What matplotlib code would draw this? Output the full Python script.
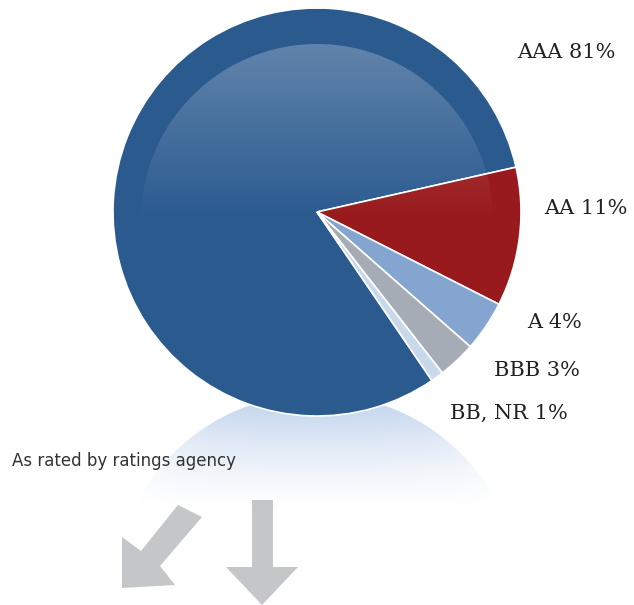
import matplotlib
matplotlib.use("Agg")
import matplotlib.pyplot as plt
import numpy as np
from matplotlib.patches import Circle, Polygon

ratings = ["AAA", "AA", "A", "BBB", "BB, NR"]
shares = [81, 11, 4, 3, 1]
colors = ["#2b5a8f", "#981a1d", "#83a5cf", "#a5acb5", "#c9d9ec"]
note = "As rated by ratings agency"

W, H = 634, 605
cx, cy, r = 317, H - 212, 204

fig = plt.figure(figsize=(W / 100, H / 100), dpi=100)
ax = fig.add_axes([0, 0, 1, 1])

# reflection under the pie
ny, nx = 120, 300
yy = np.linspace(0, 1, ny)[:, None]
xx = np.linspace(-1, 1, nx)[None, :]
alpha = (1 - yy) ** 1.3 * np.clip(1 - np.abs(xx) ** 4, 0, 1) * 0.8
refl = np.zeros((ny, nx, 4))
refl[..., 0] = 0.70
refl[..., 1] = 0.79
refl[..., 2] = 0.91
refl[..., 3] = alpha
im = ax.imshow(refl, extent=(cx - r, cx + r, H - 510, H - 400),
               origin="upper", zorder=1, aspect="auto")
im.set_clip_path(Circle((cx, H - 598), r, transform=ax.transData))

wedges, _ = ax.pie(shares, colors=colors, startangle=-55.7, counterclock=False,
                   center=(cx, cy), radius=r,
                   wedgeprops=dict(edgecolor="white", linewidth=1.2, zorder=2))

# glossy highlight on top of the pie
gy = np.linspace(0, 1, 200)[:, None]
ga = np.clip(0.28 * (1 - gy / 0.5), 0, None) * np.ones((1, 10))
gloss = np.ones((200, 10, 4))
gloss[..., 3] = ga
g = ax.imshow(gloss, extent=(cx - r, cx + r, cy - r, cy + r - 18),
              origin="upper", zorder=3, aspect="auto")
g.set_clip_path(Circle((cx, cy - 8), r - 28, transform=ax.transData))

# labels
serif = dict(family="DejaVu Serif", fontsize=15, color="#222222", va="center")
label_pos = [(517, 53), (544, 208), (527, 322), (494, 370), (450, 413)]
for name, val, (lx, ly) in zip(ratings, shares, label_pos):
    ax.text(lx, H - ly, f"{name} {val}%", **serif)

ax.text(12, H - 461, note, family="DejaVu Sans", fontsize=12,
        color="#333333", va="center")

# decorative arrows
grey = "#c5c6c8"
down = [(252, 500), (273, 500), (273, 567), (298, 567), (262, 605),
        (226, 567), (252, 567)]
diag = [(178, 505), (202, 517), (160, 566), (175, 585), (122, 588),
        (122, 537), (141, 551)]
for pts in (down, diag):
    ax.add_patch(Polygon([(x, H - y) for x, y in pts], closed=True,
                         facecolor=grey, edgecolor="none", zorder=2))

ax.set_xlim(0, W)
ax.set_ylim(0, H)
ax.axis("off")

fig.savefig("out.png", dpi=100)
